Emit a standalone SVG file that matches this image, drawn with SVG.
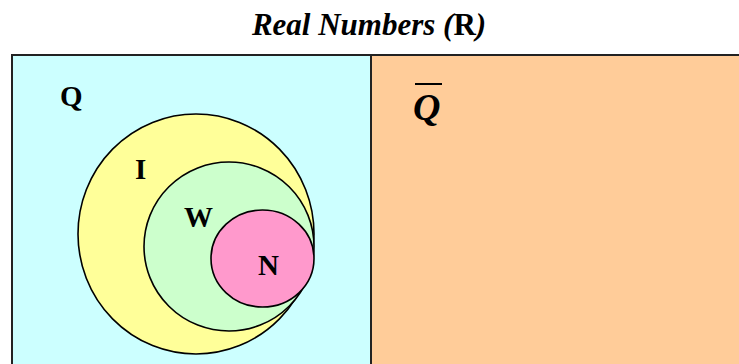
<svg xmlns="http://www.w3.org/2000/svg" width="739" height="364" viewBox="0 0 739 364">
<style>
.s{stroke:#000;stroke-width:1.6}
.lb{font-family:"Liberation Serif","Times New Roman",serif;font-weight:bold;font-size:29px;fill:#000}
.ti{font-size:31px;font-style:italic}
.qb{font-size:38px;font-style:italic}
</style>
<rect width="739" height="364" fill="#fff"/>
<text x="369" y="35" text-anchor="middle" class="lb ti">Real Numbers (<tspan style="font-style:normal">R</tspan>)</text>
<g id="Q">
<rect x="12" y="55" width="359" height="320" fill="#CCFFFF" stroke="#222" stroke-width="2"/>
<text x="60" y="106" class="lb">Q</text>
</g>
<g id="Qbar">
<rect x="371" y="55" width="380" height="320" fill="#FFCC99" stroke="#222" stroke-width="2"/>
<line x1="415" y1="84" x2="442" y2="84" stroke="#000" stroke-width="2"/>
<text x="413" y="120" class="lb qb">Q</text>
</g>
<g id="I">
<ellipse cx="196" cy="234" rx="118" ry="120" fill="#FFFF99" class="s"/>
<text x="135" y="179" class="lb">I</text>
</g>
<g id="W">
<ellipse cx="229" cy="246.5" rx="85" ry="84.5" fill="#CCFFCC" class="s"/>
<text x="184" y="227" class="lb">W</text>
</g>
<g id="N">
<ellipse cx="262.5" cy="258.5" rx="51.5" ry="48.5" fill="#FF99CC" class="s"/>
<text x="258" y="275" class="lb">N</text>
</g>
</svg>
